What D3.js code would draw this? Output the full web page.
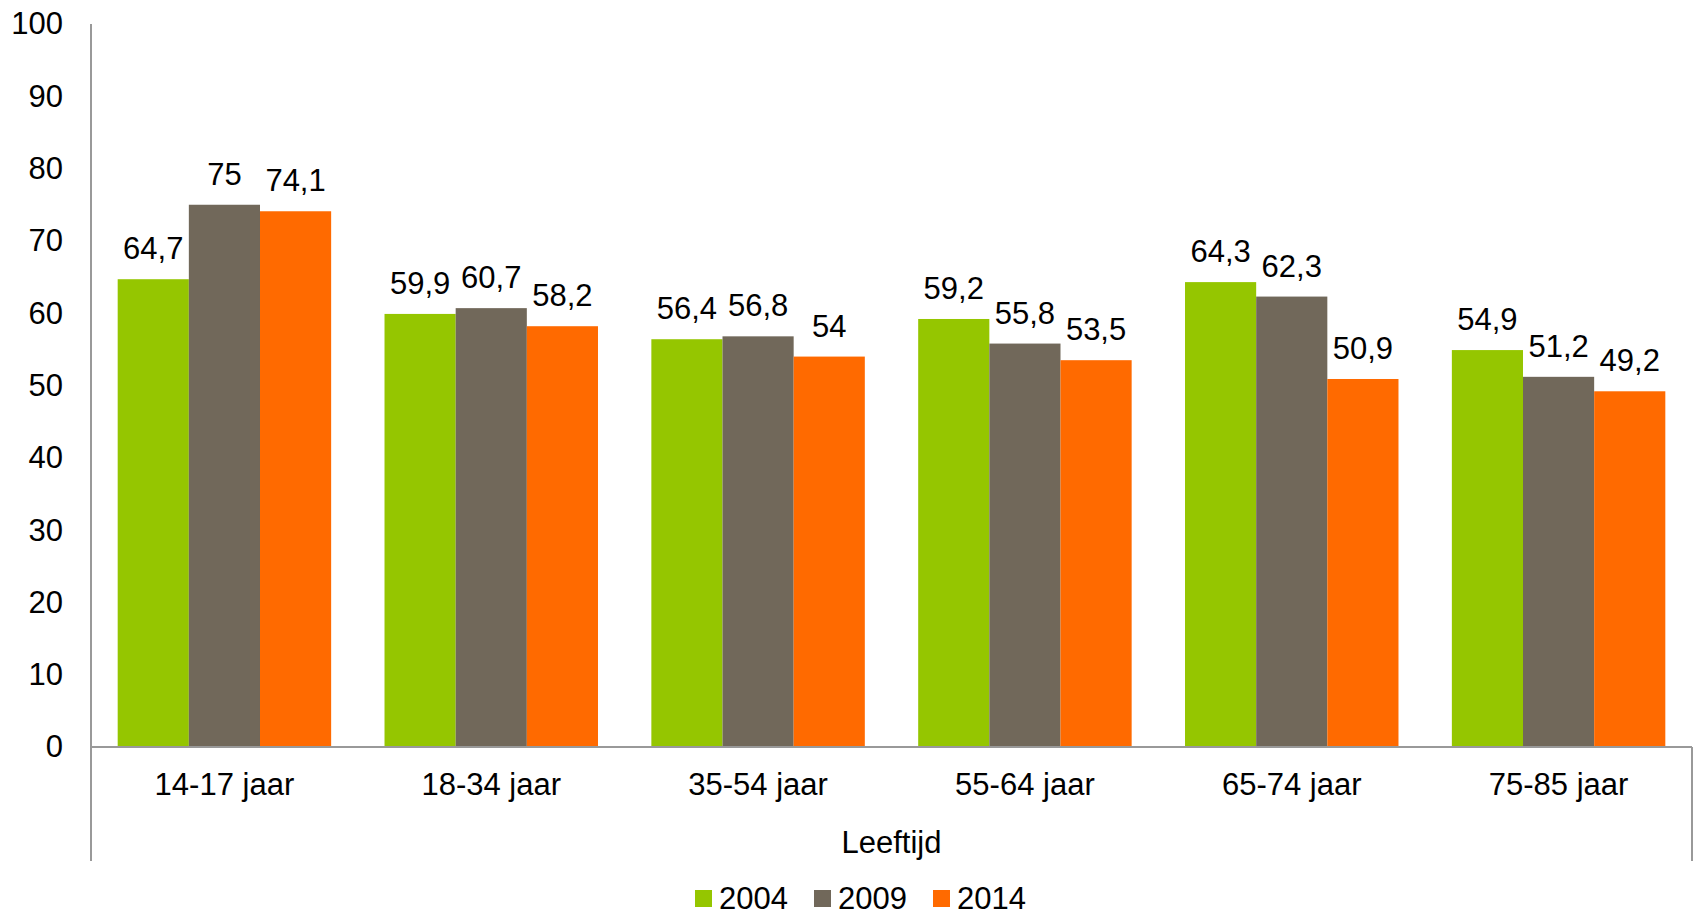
<!DOCTYPE html>
<html>
<head>
<meta charset="utf-8">
<script src="https://cdn.jsdelivr.net/npm/d3@7"></script>
<style>
  body { margin: 0; background: #fff; }
  text { font-family: "Liberation Sans", Arial, sans-serif; fill: #000; }
</style>
</head>
<body>
<div id="chart"></div>
<script>
// data
const categories = ["14-17 jaar", "18-34 jaar", "35-54 jaar", "55-64 jaar", "65-74 jaar", "75-85 jaar"];
const years = ["2004", "2009", "2014"];
const values2004 = [64.7, 59.9, 56.4, 59.2, 64.3, 54.9];
const values2009 = [75, 60.7, 56.8, 55.8, 62.3, 51.2];
const values2014 = [74.1, 58.2, 54, 53.5, 50.9, 49.2];
const yTicks = [0, 10, 20, 30, 40, 50, 60, 70, 80, 90, 100];
const colors = ["#95c600", "#71685a", "#ff6a00"];

const W = 1694, H = 916;
const plotLeft = 91, plotRight = 1692, plotTop = 24, base = 747;
const fs = 31;

const svg = d3.select("#chart").append("svg")
  .attr("width", W).attr("height", H);

const x = d3.scaleBand().domain(categories).range([plotLeft, plotRight]).paddingInner(0).paddingOuter(0);
// bars take about 80% of each category band
const inner = 0.2;
const x1 = d3.scaleBand().domain(years)
  .range([x.bandwidth() * inner / 2, x.bandwidth() * (1 - inner / 2)]);
const y = d3.scaleLinear().domain([0, 100]).range([base, plotTop]);

const series = [values2004, values2009, values2014];
const rows = categories.map((c, i) => years.map((yr, j) => ({ cat: c, year: yr, value: series[j][i], color: colors[j] })));

// y axis labels
const yAxis = svg.append("g").attr("transform", `translate(${plotLeft},0)`)
  .call(d3.axisLeft(y).tickValues(yTicks).tickSize(0).tickPadding(28).tickFormat(d3.format("d")));
yAxis.select(".domain").remove();
yAxis.selectAll("text").style("font-size", fs + "px").style("font-family", "Liberation Sans, Arial, sans-serif").attr("fill", "#000");

// bars
const groups = svg.selectAll("g.cat").data(rows).enter().append("g")
  .attr("class", "cat")
  .attr("transform", d => `translate(${x(d[0].cat)},0)`);

groups.selectAll("rect").data(d => d).enter().append("rect")
  .attr("x", d => x1(d.year))
  .attr("y", d => y(d.value))
  .attr("width", x1.bandwidth())
  .attr("height", d => base - y(d.value))
  .attr("fill", d => d.color);

groups.selectAll("text.val").data(d => d).enter().append("text")
  .attr("class", "val")
  .attr("x", d => x1(d.year) + x1.bandwidth() / 2)
  .attr("y", d => y(d.value) - 20)
  .attr("text-anchor", "middle")
  .style("font-size", fs + "px")
  .text(d => String(d.value).replace(".", ","));

// axis lines
const lineColor = "#999";
svg.append("line").attr("x1", plotLeft).attr("x2", plotLeft).attr("y1", plotTop).attr("y2", 861)
  .attr("stroke", lineColor).attr("stroke-width", 2);
svg.append("line").attr("x1", plotLeft).attr("x2", plotRight).attr("y1", base).attr("y2", base)
  .attr("stroke", lineColor).attr("stroke-width", 2);
svg.append("line").attr("x1", plotRight).attr("x2", plotRight).attr("y1", base).attr("y2", 861)
  .attr("stroke", lineColor).attr("stroke-width", 2);

// category labels
const xAxis = svg.append("g").attr("transform", `translate(0,${base})`)
  .call(d3.axisBottom(x).tickSize(0).tickPadding(26));
xAxis.select(".domain").remove();
xAxis.selectAll("text").style("font-size", fs + "px").style("font-family", "Liberation Sans, Arial, sans-serif").attr("fill", "#000");

svg.append("text")
  .attr("x", (plotLeft + plotRight) / 2).attr("y", 853)
  .attr("text-anchor", "middle")
  .style("font-size", fs + "px")
  .text("Leeftijd");

// legend
const legendX = [695, 814, 933];
const legend = svg.selectAll("g.leg").data(years).enter().append("g")
  .attr("class", "leg")
  .attr("transform", (d, i) => `translate(${legendX[i]},0)`);
legend.append("rect").attr("x", 0).attr("y", 890).attr("width", 17).attr("height", 17)
  .attr("fill", (d, i) => colors[i]);
legend.append("text").attr("x", 24).attr("y", 909)
  .style("font-size", fs + "px")
  .text(d => d);
</script>
</body>
</html>
